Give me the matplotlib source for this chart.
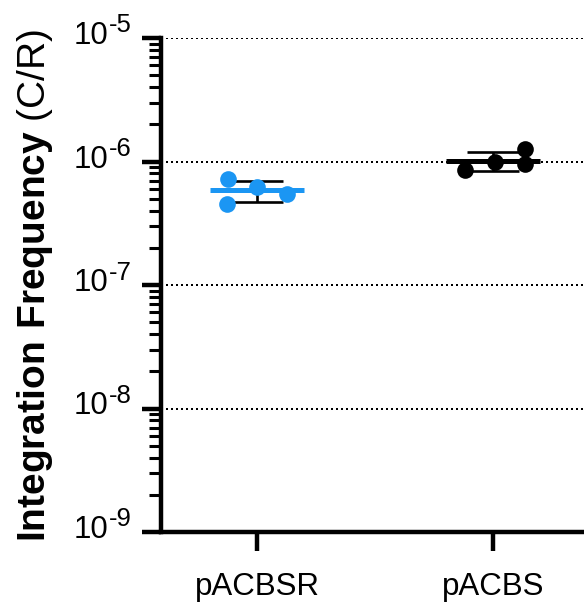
import matplotlib
matplotlib.use('Agg')
import matplotlib.pyplot as plt
from matplotlib.ticker import LogLocator, NullFormatter, FixedLocator
from matplotlib.transforms import ScaledTranslation
import numpy as np

# data (integration frequency, C/R)
groups = ['pACBSR', 'pACBS']
pacbsr_values = [7.2e-7, 6.2e-7, 5.5e-7, 4.5e-7]
pacbs_values = [8.5e-7, 9.9e-7, 1.26e-6, 9.6e-7]
# horizontal scatter of the dots within each column
pacbsr_jitter = [-0.123, 0.0, 0.127, -0.127]
pacbs_jitter = [-0.119, 0.008, 0.135, 0.135]
ytick_exponents = [-9, -8, -7, -6, -5]

colors = ['#1B96F3', '#000000']

plt.rcParams['font.family'] = ['Liberation Sans', 'DejaVu Sans']
plt.rcParams['mathtext.fontset'] = 'custom'
plt.rcParams['mathtext.rm'] = 'Liberation Sans'
plt.rcParams['mathtext.bf'] = 'Liberation Sans:bold'

fig = plt.figure(figsize=(5.84, 6.05), dpi=100)
ax = fig.add_axes([161 / 584, 1 - 532 / 605, 1 - 161 / 584, (532 - 38) / 605])

series = [(pacbsr_values, pacbsr_jitter), (pacbs_values, pacbs_jitter)]
for i, (vals, jit) in enumerate(series):
    vals = np.array(vals)
    m = vals.mean()
    sd = vals.std(ddof=1)
    # mean +/- SD, then the mean line, then the individual points
    ax.errorbar([i], [m], yerr=[[sd], [sd]], fmt='none', ecolor='black',
                elinewidth=1.9, capsize=18.5, capthick=1.9, zorder=2)
    ax.hlines(m, i - 0.2, i + 0.2, color=colors[i], lw=3.6, zorder=3)
    ax.plot(i + np.array(jit), vals, 'o', color=colors[i], ms=12,
            mec='none', zorder=4, clip_on=False)

ax.set_yscale('log')
ax.set_ylim(1e-9, 1e-5)
ax.set_xlim(-0.407, 1.386)

ytick_values = [10.0 ** e for e in ytick_exponents]
ax.yaxis.set_major_locator(FixedLocator(ytick_values))
ax.set_yticklabels([''] * len(ytick_values))
ax.yaxis.set_minor_locator(LogLocator(base=10, subs=np.arange(2, 10)))
ax.yaxis.set_minor_formatter(NullFormatter())
ax.set_xticks([0, 1])
ax.set_xticklabels(groups, fontsize=22.5)

# y tick labels drawn as "10" plus a raised exponent with a plain hyphen
ytrans = ax.get_yaxis_transform()
for e, v in zip(ytick_exponents, ytick_values):
    base_tr = ytrans + ScaledTranslation(-0.53, -0.06, fig.dpi_scale_trans)
    exp_tr = ytrans + ScaledTranslation(-0.52, 0.055, fig.dpi_scale_trans)
    ax.text(0, v, '10', transform=base_tr, ha='right', va='baseline',
            fontsize=22.5, clip_on=False)
    ax.text(0, v, '%d' % e, transform=exp_tr, ha='left', va='baseline',
            fontsize=18.5, clip_on=False)

for s in ['top', 'right']:
    ax.spines[s].set_visible(False)
for s in ['left', 'bottom']:
    ax.spines[s].set_linewidth(3.2)

ax.tick_params(axis='both', which='major', length=14, width=3.2,
               direction='out', color='black')
ax.tick_params(axis='x', which='major', pad=15)
ax.tick_params(axis='y', which='minor', length=8.5, width=2.2)

ax.grid(axis='y', which='major', color='black', lw=1.44,
        linestyle=(0, (1.0, 1.5)))
ax.set_axisbelow(True)

fig.text(35 / 584, 1 - 285 / 605,
         r'$\mathbf{Integration\ Frequency}$ (C/R)',
         rotation=90, ha='center', va='center', fontsize=28)

fig.savefig('out.png', dpi=100)
